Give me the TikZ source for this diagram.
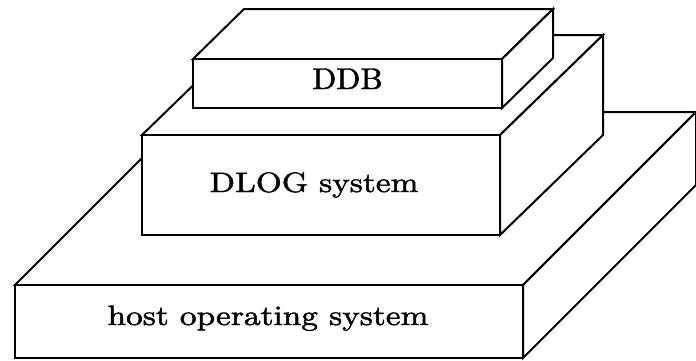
\documentclass[tikz,border=0pt]{standalone}
\usepackage{fontspec}
\newfontfamily\lblfont{lmroman10-regular.otf}[RawFeature={embolden=1.5}]
\usetikzlibrary{calc}
\begin{document}
\begin{tikzpicture}[x=1pt,y=-1pt,
  face/.style={draw=black,fill=white,line width=2pt,line join=miter},
  lbl/.style={font=\lblfont\fontsize{28}{32}\selectfont,inner sep=0pt,anchor=base}]
\useasboundingbox (0,0) rectangle (696,360);
\begin{scope}
\clip (0,0) rectangle (696,360);
% host operating system box
\coordinate (h1) at (15,285);
\coordinate (h2) at (523,358);
\draw[face] (15,285) -- (188,112) -- (696,112) -- (523,285) -- cycle;
\draw[face] (523,285) -- (696,112) -- (696,185) -- (523,358) -- cycle;
\draw[face] (h1) rectangle (h2);
\node[lbl] (host) at (268,325) {\scalebox{1.19}[1]{host operating system}};
% DLOG system box
\coordinate (d1) at (142,135);
\coordinate (d2) at (500,235);
\draw[face] (142,135) -- (245,35) -- (603,35) -- (500,135) -- cycle;
\draw[face] (500,135) -- (603,35) -- (603,135) -- (500,235) -- cycle;
\draw[face] (d1) rectangle (d2);
\node[lbl] (dlog) at (314,192) {\scalebox{1.19}[1]{DLOG system}};
% DDB box
\coordinate (b1) at (193,59);
\coordinate (b2) at (502,108);
\draw[face] (193,59) -- (244,9) -- (553,9) -- (502,59) -- cycle;
\draw[face] (502,59) -- (553,9) -- (553,58) -- (502,108) -- cycle;
\draw[face] (b1) rectangle (b2);
\node[lbl,font=\lblfont\fontsize{30}{34}\selectfont] (ddb) at (347.5,89) {\scalebox{1.05}[1]{DDB}};
\end{scope}
\end{tikzpicture}
\end{document}
